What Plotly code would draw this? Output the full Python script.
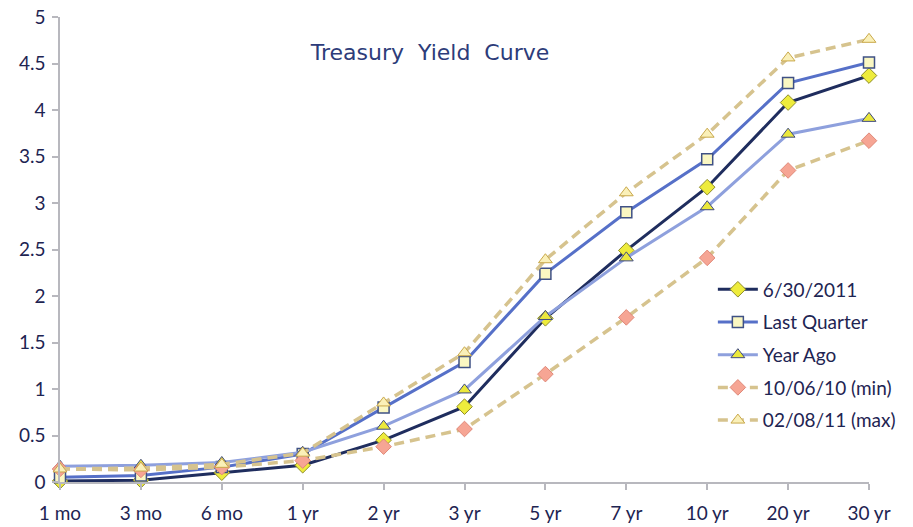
import plotly.graph_objects as go

categories = ["1 mo", "3 mo", "6 mo", "1 yr", "2 yr", "3 yr", "5 yr", "7 yr", "10 yr", "20 yr", "30 yr"]
current = [0.01, 0.02, 0.10, 0.18, 0.45, 0.81, 1.76, 2.49, 3.17, 4.08, 4.37]
last_quarter = [0.05, 0.07, 0.16, 0.30, 0.80, 1.29, 2.24, 2.90, 3.47, 4.29, 4.51]
year_ago = [0.17, 0.18, 0.21, 0.32, 0.60, 0.99, 1.78, 2.41, 2.96, 3.74, 3.91]
min_curve = [0.14, 0.13, 0.16, 0.23, 0.38, 0.57, 1.16, 1.77, 2.41, 3.35, 3.67]
max_curve = [0.14, 0.15, 0.19, 0.31, 0.85, 1.39, 2.39, 3.11, 3.74, 4.56, 4.76]

names = ["6/30/2011", "Last Quarter", "Year Ago", "10/06/10 (min)", "02/08/11 (max)"]

navy_text = "#1E2452"
tan = "#D6C38E"

fig = go.Figure()

fig.add_trace(go.Scatter(
    x=categories, y=current, name=names[0], mode="lines+markers",
    line=dict(color="#1F2D5E", width=3),
    marker=dict(symbol="diamond", size=12, color="#EEEC3C", line=dict(color="#8E8C2A", width=1)),
    cliponaxis=False, legendgroup="a"))
fig.add_trace(go.Scatter(
    x=categories, y=last_quarter, name=names[1], mode="lines+markers",
    line=dict(color="#5670C8", width=3),
    marker=dict(symbol="square", size=11, color="#FAF7C2", line=dict(color="#3F5185", width=1.5)),
    cliponaxis=False, legendgroup="b"))
fig.add_trace(go.Scatter(
    x=categories, y=year_ago, name=names[2], mode="lines+markers",
    line=dict(color="#8EA0DD", width=3),
    marker=dict(symbol="triangle-up", size=12, color="#EBE83C", line=dict(color="#3F4A80", width=1)),
    cliponaxis=False, legendgroup="c"))
fig.add_trace(go.Scatter(
    x=categories, y=min_curve, name=names[3], mode="lines+markers",
    line=dict(color=tan, width=3.5, dash="10px,6px"),
    marker=dict(symbol="diamond", size=12, color="#F6A594", line=dict(color="#E08878", width=1)),
    cliponaxis=False, legendgroup="d"))
fig.add_trace(go.Scatter(
    x=categories, y=max_curve, name=names[4], mode="lines+markers",
    line=dict(color=tan, width=3.5, dash="10px,6px"),
    marker=dict(symbol="triangle-up", size=12, color="#FAF0B8", line=dict(color="#C9A84A", width=1)),
    cliponaxis=False, legendgroup="e"))

fig.update_layout(
    width=913, height=527,
    margin=dict(l=60, r=25, t=17, b=45),
    paper_bgcolor="white", plot_bgcolor="white",
    font=dict(family="Lato", size=19, color=navy_text),
    showlegend=True,
    legend=dict(x=0.807, y=0.455, xanchor="left", yanchor="top", itemwidth=40,
                bgcolor="rgba(0,0,0,0)", font=dict(size=19, color=navy_text),
                traceorder="grouped", tracegroupgap=5),
    title=dict(text="Treasury  Yield  Curve", x=430/913, y=1-52/527, xref="container", yref="container",
               xanchor="center", yanchor="middle",
               font=dict(family="DejaVu Sans", size=22, color="#2D3C7A")),
)

fig.update_xaxes(
    type="category", range=[0, 10], showgrid=False, zeroline=False, automargin=False,
    showline=True, linecolor="#B8B8BE", linewidth=1.5,
    ticks="outside", ticklen=6, tickcolor="#B8B8BE", tickwidth=1.5,
    ticklabelstandoff=7,
    tickfont=dict(size=19, color=navy_text))
fig.update_yaxes(
    range=[0, 5], dtick=0.5, showgrid=False, zeroline=False, automargin=False,
    showline=True, linecolor="#B8B8BE", linewidth=1.5,
    ticks="outside", ticklen=6, tickcolor="#B8B8BE", tickwidth=1.5,
    ticklabelstandoff=3,
    tickfont=dict(size=19, color=navy_text))

fig.write_html("out.html")
